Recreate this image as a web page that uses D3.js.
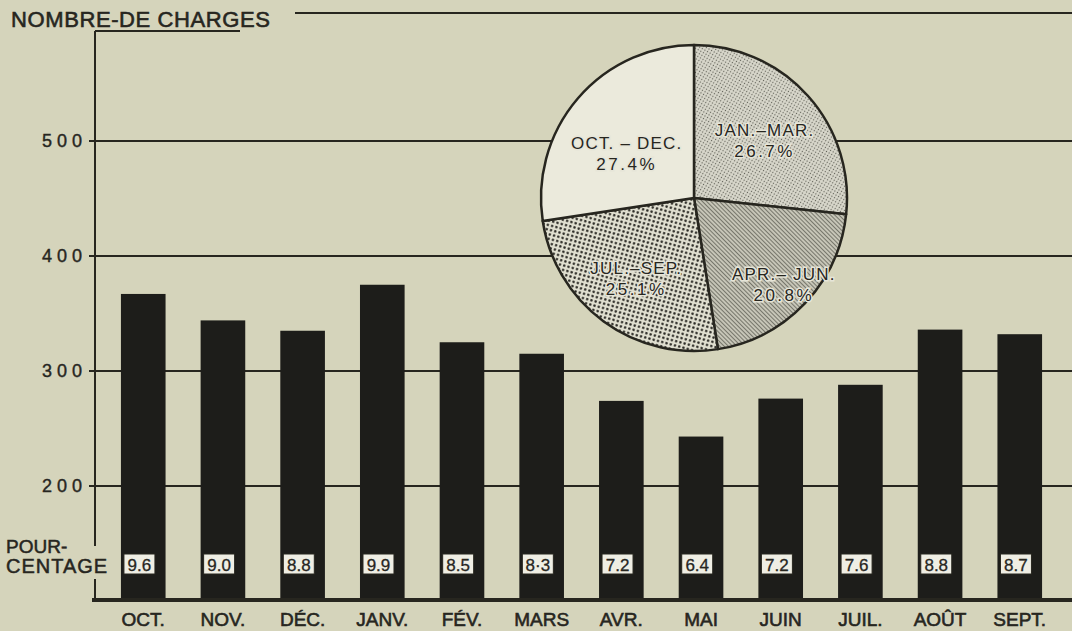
<!DOCTYPE html>
<html>
<head>
<meta charset="utf-8">
<script src="https://cdn.jsdelivr.net/npm/d3@7"></script>
<style>
  body { margin: 0; background: #d5d4bb; }
  svg { display: block; font-family: "Liberation Sans", Arial, sans-serif; }
</style>
</head>
<body>
<svg id="chart" width="1072" height="631"></svg>
<script>
// monthly counts, Oct -> Sept
const months = ["OCT.", "NOV.", "DÉC.", "JANV.", "FÉV.", "MARS", "AVR.", "MAI", "JUIN", "JUIL.", "AOÛT", "SEPT."];
const charges = [367, 344, 335, 375, 325, 315, 274, 243, 276, 288, 336, 332];
const pourcentages = ["9.6", "9.0", "8.8", "9.9", "8.5", "8·3", "7.2", "6.4", "7.2", "7.6", "8.8", "8.7"];
const yTicks = [200, 300, 400, 500];

// quarters, clockwise from 12 o'clock
const quarters = ["JAN.–MAR.", "APR.– JUN.", "JUL.–SEP.", "OCT. – DEC."];
const quarterShare = [26.7, 20.8, 25.1, 27.4];
const quarterText = ["26.7%", "20.8%", "25.1%", "27.4%"];

const ink = "#27261f";

const svg = d3.select("#chart");

const x = d3.scaleBand().domain(months).range([105, 1058]).paddingInner(0.44).paddingOuter(0.2);
const y = d3.scaleLinear().domain([100, 600]).range([601, 26]);

// thicken the thin system font a bit
function heavy(sel, w) {
    return sel.attr("fill", ink).attr("stroke", ink).attr("stroke-width", w || 0.5);
}

// fill patterns for the pie
const defs = svg.append("defs");

const stipple = defs.append("pattern").attr("id", "stipple")
    .attr("patternUnits", "userSpaceOnUse").attr("width", 3).attr("height", 3)
    .attr("patternTransform", "rotate(30)");
stipple.append("rect").attr("width", 3).attr("height", 3).attr("fill", "#d8d7cb");
stipple.append("circle").attr("cx", 1.5).attr("cy", 1.5).attr("r", 0.65).attr("fill", "#5f5f56");

const hatch = defs.append("pattern").attr("id", "hatch")
    .attr("patternUnits", "userSpaceOnUse").attr("width", 3).attr("height", 3)
    .attr("patternTransform", "rotate(-45)");
hatch.append("rect").attr("width", 3).attr("height", 3).attr("fill", "#c6c5b7");
hatch.append("line").attr("x1", 0.5).attr("y1", 0).attr("x2", 0.5).attr("y2", 3)
    .attr("stroke", "#76766b").attr("stroke-width", 1);

const dots = defs.append("pattern").attr("id", "dots")
    .attr("patternUnits", "userSpaceOnUse").attr("width", 4.4).attr("height", 4.4)
    .attr("patternTransform", "rotate(15)");
dots.append("rect").attr("width", 4.4).attr("height", 4.4).attr("fill", "#e0dfd0");
dots.append("circle").attr("cx", 2.2).attr("cy", 2.2).attr("r", 1.25).attr("fill", "#2b2a25");

const sliceFill = ["url(#stipple)", "url(#hatch)", "url(#dots)", "#ebeadc"];

// frame, title
heavy(svg.append("text"), 0.6)
    .attr("x", 11).attr("y", 27)
    .attr("font-size", 22).attr("letter-spacing", 0.6)
    .text("NOMBRE-DE CHARGES");

const frame = svg.append("g").attr("stroke", ink).attr("fill", "none").attr("stroke-width", 2);
frame.append("line").attr("x1", 295).attr("x2", 1072).attr("y1", 13).attr("y2", 13);
frame.append("line").attr("x1", 95).attr("x2", 240).attr("y1", 31).attr("y2", 31);
frame.append("line").attr("x1", 95).attr("x2", 95).attr("y1", 31).attr("y2", 546);
frame.append("line").attr("x1", 95).attr("x2", 95).attr("y1", 579).attr("y2", y(100));

// grid lines + tick labels
svg.append("g").selectAll("line").data(yTicks).join("line")
    .attr("x1", 89).attr("x2", 1072)
    .attr("y1", d => y(d)).attr("y2", d => y(d))
    .attr("stroke", ink).attr("stroke-width", 1.8);

heavy(svg.append("g").selectAll("text").data(yTicks).join("text"), 0.4)
    .attr("x", 87).attr("y", d => y(d) + 6)
    .attr("text-anchor", "end")
    .attr("font-size", 18).attr("letter-spacing", 5)
    .text(d => d);

// bars
svg.append("g").selectAll("rect").data(charges).join("rect")
    .attr("x", (d, i) => x(months[i]))
    .attr("y", d => y(d))
    .attr("width", x.bandwidth())
    .attr("height", d => y(100) - y(d))
    .attr("fill", "#1d1d1a");

// baseline
svg.append("line")
    .attr("x1", 92).attr("x2", 1072)
    .attr("y1", y(100) - 1).attr("y2", y(100) - 1)
    .attr("stroke", ink).attr("stroke-width", 4);

// percentage boxes
const boxes = svg.append("g").selectAll("g").data(pourcentages).join("g")
    .attr("transform", (d, i) => `translate(${x(months[i]) + 3},554)`);
boxes.append("rect")
    .attr("width", 31).attr("height", 20)
    .attr("fill", "#efeee4").attr("stroke", ink).attr("stroke-width", 1);
heavy(boxes.append("text"), 0.3)
    .attr("x", 15.5).attr("y", 16.5)
    .attr("text-anchor", "middle")
    .attr("font-size", 17)
    .text(d => d);

heavy(svg.append("text"), 0.5).attr("x", 6).attr("y", 553)
    .attr("font-size", 19).text("POUR-");
heavy(svg.append("text"), 0.5).attr("x", 6).attr("y", 573)
    .attr("font-size", 20).attr("letter-spacing", 1).text("CENTAGE");

// month labels
heavy(svg.append("g").selectAll("text").data(months).join("text"), 0.6)
    .attr("x", d => x(d) + x.bandwidth() / 2)
    .attr("y", 626)
    .attr("text-anchor", "middle")
    .attr("font-size", 19)
    .text(d => d);

// pie
const R = 153;
const pieG = svg.append("g").attr("transform", "translate(694,198)");
const arcs = d3.pie().sort(null)(quarterShare);
const arc = d3.arc().innerRadius(0).outerRadius(R);

pieG.selectAll("path").data(arcs).join("path")
    .attr("d", arc)
    .attr("fill", (d, i) => sliceFill[i])
    .attr("stroke", ink).attr("stroke-width", 2.5)
    .attr("stroke-linejoin", "round");

// label distance from centre, per slice (fraction of R) and small vertical nudge
const labelR = [0.62, 0.81, 0.64, 0.58];
const labelDy = [4, 0, 0, 12];
const labels = pieG.selectAll("g.lbl").data(arcs).join("g")
    .attr("class", "lbl")
    .attr("transform", (d, i) => {
        const c = d3.arc().innerRadius(0).outerRadius(R * labelR[i] * 2).centroid(d);
        return `translate(${c[0]},${c[1] + labelDy[i]})`;
    });
labels.append("text")
    .attr("y", -3)
    .attr("text-anchor", "middle")
    .attr("font-size", 17).attr("letter-spacing", 1.2).attr("fill", ink)
    .attr("stroke", "#e6e5d8").attr("stroke-width", 3).attr("paint-order", "stroke")
    .text((d, i) => quarters[i]);
labels.append("text")
    .attr("y", 18)
    .attr("text-anchor", "middle")
    .attr("font-size", 17).attr("letter-spacing", 2.5).attr("fill", ink)
    .attr("stroke", "#e6e5d8").attr("stroke-width", 3).attr("paint-order", "stroke")
    .text((d, i) => quarterText[i]);
</script>
</body>
</html>
